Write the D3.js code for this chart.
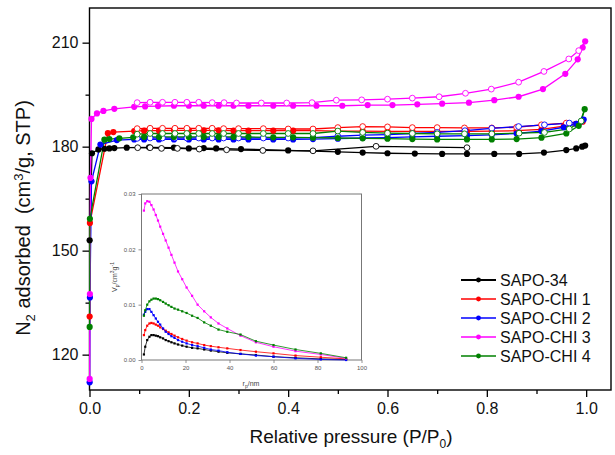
<!DOCTYPE html>
<html>
<head>
<meta charset="utf-8">
<script src="https://cdn.jsdelivr.net/npm/d3@7/dist/d3.min.js"></script>
<style>
  body { margin: 0; background: #fff; }
  svg { display: block; font-family: "Liberation Sans", Arial, sans-serif; }
</style>
</head>
<body>
<div id="chart"></div>
<script>
// ---- data: N2 isotherms, [P/P0, volume] ----
var seriesNames = ['SAPO-34', 'SAPO-CHI 1', 'SAPO-CHI 2', 'SAPO-CHI 3', 'SAPO-CHI 4'];
var seriesColors = ['#000000', '#ff0000', '#0000ff', '#ff00ff', '#008000'];
var joinTop = [false, true, true, true, true];

var ads34 = [[0.0003,153],[0.005,178.1],[0.018,179.2],[0.03,179.4],[0.04,179.5],[0.05,179.6],[0.075,179.7],[0.12,179.8],[0.17,179.7],[0.2,179.5],[0.23,179.6],[0.255,179.5],[0.305,179.3],[0.4,178.9],[0.5,178.5],[0.55,178.3],[0.6,178.1],[0.655,178.0],[0.71,177.9],[0.76,177.9],[0.815,177.9],[0.865,177.9],[0.915,178.3],[0.96,179.0],[0.98,179.5],[0.992,180.0],[0.998,180.3]];
var des34 = [[0.76,179.7],[0.577,180.1],[0.45,178.8],[0.349,178.9],[0.276,179.1],[0.221,179.3],[0.177,179.5],[0.145,179.5],[0.122,179.7],[0.097,179.7]];

var adsChi1 = [[0.0003,131],[0.0008,158],[0.037,183.9],[0.048,184.2],[0.09,184.5],[0.11,184.6],[0.14,184.6],[0.17,184.7],[0.2,184.7],[0.23,184.7],[0.26,184.7],[0.29,184.6],[0.32,184.6],[0.37,184.6],[0.41,184.6],[0.45,184.6],[0.5,184.5],[0.55,184.5],[0.6,184.4],[0.65,184.4],[0.7,184.4],[0.76,184.4],[0.81,184.5],[0.86,184.6],[0.91,185.0],[0.955,185.9],[0.98,186.6],[0.993,187.2]];
var desChi1 = [[0.96,186.8],[0.91,186.3],[0.86,185.6],[0.81,185.4],[0.755,185.4],[0.7,185.5],[0.65,185.5],[0.6,185.7],[0.55,185.8],[0.5,185.5],[0.45,185.1],[0.4,185.1],[0.35,185.2],[0.3,185.2],[0.27,185.2],[0.247,185.3],[0.22,185.3],[0.196,185.3],[0.172,185.3],[0.147,185.3],[0.122,185.3],[0.096,185.2]];

var adsChi2 = [[0.0003,112],[0.0008,136.5],[0.004,170],[0.022,180.6],[0.055,181.9],[0.09,182.1],[0.11,182.1],[0.14,182.1],[0.17,182.1],[0.2,182.1],[0.23,182.1],[0.26,182.1],[0.29,182.1],[0.32,182.1],[0.37,182.1],[0.41,182.1],[0.45,182.2],[0.5,182.3],[0.55,182.5],[0.6,182.6],[0.65,182.8],[0.7,183.0],[0.76,183.2],[0.81,183.4],[0.86,183.8],[0.91,184.5],[0.955,185.6],[0.98,186.6],[0.995,187.8]];
var desChi2 = [[0.99,187.3],[0.966,186.8],[0.916,186.3],[0.864,185.8],[0.81,185.3],[0.756,184.6],[0.7,184.1],[0.65,183.8],[0.6,183.5],[0.55,183.3],[0.5,183.0],[0.45,182.6],[0.4,182.5],[0.35,182.5],[0.3,182.5],[0.27,182.5],[0.247,182.5],[0.22,182.5],[0.196,182.5],[0.172,182.5],[0.147,182.5],[0.122,182.5],[0.096,182.4]];

var adsChi3 = [[0.0003,113],[0.0008,137.5],[0.002,171],[0.004,188],[0.015,189.6],[0.028,190.3],[0.05,190.9],[0.09,191.5],[0.112,191.6],[0.138,191.7],[0.17,191.8],[0.2,191.8],[0.23,191.8],[0.26,191.8],[0.29,191.8],[0.32,191.8],[0.37,191.8],[0.41,191.8],[0.457,191.8],[0.509,191.8],[0.56,192.0],[0.61,192.0],[0.66,192.2],[0.71,192.4],[0.764,192.7],[0.815,193.4],[0.864,194.4],[0.913,196.6],[0.958,201.0],[0.983,205.2],[0.993,208.6],[0.998,210.4]];
var desChi3 = [[0.985,207.7],[0.965,205.3],[0.915,201.7],[0.864,198.6],[0.809,196.6],[0.757,195.4],[0.704,194.4],[0.65,194.0],[0.6,193.7],[0.548,193.5],[0.497,193.4],[0.448,192.7],[0.397,192.6],[0.346,192.6],[0.296,192.6],[0.271,192.7],[0.247,192.7],[0.22,192.8],[0.196,192.8],[0.172,192.8],[0.147,192.8],[0.122,192.8],[0.096,192.7]];

var adsChi4 = [[0.0003,128],[0.0008,159.2],[0.03,182.0],[0.04,182.2],[0.06,182.4],[0.088,182.7],[0.11,182.8],[0.14,182.8],[0.17,182.8],[0.2,182.8],[0.23,182.8],[0.26,182.8],[0.29,182.8],[0.32,182.8],[0.37,182.7],[0.41,182.7],[0.45,182.6],[0.5,182.5],[0.55,182.4],[0.6,182.3],[0.65,182.2],[0.7,182.1],[0.76,182.1],[0.81,182.1],[0.86,182.2],[0.91,182.6],[0.96,183.8],[0.985,186.0],[0.997,190.8]];
var desChi4 = [[0.99,187.4],[0.966,185.1],[0.916,184.1],[0.865,183.9],[0.81,183.7],[0.755,183.7],[0.7,183.7],[0.65,183.8],[0.6,183.9],[0.55,184.1],[0.5,184.5],[0.45,183.8],[0.4,183.8],[0.35,183.8],[0.3,183.8],[0.27,183.8],[0.247,183.8],[0.22,183.8],[0.196,183.8],[0.172,183.8],[0.147,183.8],[0.122,183.8],[0.096,183.6]];

var adsData = [ads34, adsChi1, adsChi2, adsChi3, adsChi4];
var desData = [des34, desChi1, desChi2, desChi3, desChi4];

var xTicks = [0, 0.2, 0.4, 0.6, 0.8, 1.0];
var xMinor = [0.1, 0.3, 0.5, 0.7, 0.9];
var yTicks = [120, 150, 180, 210];
var yMinor = [135, 165, 195];

// ---- inset: pore size distribution ----
var rp = [1.1,1.7,2.6,3.6,4.5,5.5,6.5,7.5,8.5,9.8,11,12.3,13.6,15,16.6,18.5,20.5,23,25.5,28.5,31.5,35,39,45,52,60,70,81.5,93];
var psd34   = [0.0010,0.0024,0.0036,0.0042,0.0045,0.0045,0.0044,0.0043,0.0041,0.0039,0.0036,0.0034,0.0032,0.0030,0.0028,0.0026,0.0024,0.0022,0.0021,0.0019,0.0017,0.0015,0.0013,0.0011,0.0009,0.0006,0.0004,0.0002,0.0001];
var psdChi1 = [0.0045,0.0054,0.0062,0.0066,0.0067,0.0066,0.0064,0.0062,0.0059,0.0056,0.0053,0.0050,0.0047,0.0044,0.0041,0.0038,0.0035,0.0032,0.0030,0.0027,0.0025,0.0023,0.0021,0.0018,0.0015,0.0012,0.0008,0.0005,0.0002];
var psdChi2 = [0.0082,0.0087,0.0092,0.0092,0.0087,0.0081,0.0075,0.0069,0.0064,0.0057,0.0051,0.0047,0.0043,0.0040,0.0036,0.0033,0.0030,0.0027,0.0025,0.0022,0.0019,0.0017,0.0014,0.0011,0.0008,0.0006,0.0003,0.0001,0.0000];
var psdChi3 = [0.0270,0.0283,0.0287,0.0286,0.0280,0.0272,0.0262,0.0252,0.0241,0.0228,0.0216,0.0203,0.0190,0.0176,0.0160,0.0146,0.0131,0.0116,0.0100,0.0088,0.0077,0.0066,0.0057,0.0044,0.0032,0.0024,0.0016,0.0010,0.0003];
var psdChi4 = [0.0080,0.0090,0.0100,0.0106,0.0109,0.0111,0.0111,0.0110,0.0108,0.0105,0.0102,0.0099,0.0096,0.0093,0.0091,0.0088,0.0085,0.0080,0.0076,0.0068,0.0062,0.0055,0.0051,0.0046,0.0034,0.0027,0.0019,0.0012,0.0004];
var psdData = [psd34, psdChi1, psdChi2, psdChi3, psdChi4];
var insetXTicks = [0, 20, 40, 60, 80, 100];
var insetYTicks = [0, 0.01, 0.02, 0.03];

var W = 615, H = 455;
var svg = d3.select('#chart').append('svg').attr('width', W).attr('height', H);

var x = d3.scaleLinear().domain([0, 1.05]).range([89.5, 611]);
var y = d3.scaleLinear().domain([109.8, 220]).range([390, 8]);

// frame
svg.append('rect')
	.attr('x', x.range()[0]).attr('y', y.range()[1])
	.attr('width', x.range()[1] - x.range()[0])
	.attr('height', y.range()[0] - y.range()[1])
	.attr('fill', 'none').attr('stroke', '#000').attr('stroke-width', 1.4);

// axes
var gx = svg.append('g').attr('transform', 'translate(0,' + y.range()[0] + ')');
gx.call(d3.axisBottom(x).tickValues(xTicks).tickFormat(d3.format('.1f')).tickSize(7).tickPadding(6));
gx.append('g').call(d3.axisBottom(x).tickValues(xMinor).tickFormat('').tickSize(4));
var gy = svg.append('g').attr('transform', 'translate(' + x.range()[0] + ',0)');
gy.call(d3.axisLeft(y).tickValues(yTicks).tickSize(7).tickPadding(4));
gy.append('g').call(d3.axisLeft(y).tickValues(yMinor).tickFormat('').tickSize(4));
svg.selectAll('.domain').remove();
svg.selectAll('.tick line').attr('stroke', '#000').attr('stroke-width', 1.3);
svg.selectAll('.tick text').attr('font-size', 16).attr('fill', '#111')
	.attr('font-family', '"Liberation Sans", Arial, sans-serif');

// axis titles
var xt = svg.append('text').attr('x', 351).attr('y', 443).attr('text-anchor', 'middle')
	.attr('font-size', 19).attr('fill', '#111');
xt.append('tspan').text('Relative pressure (P/P');
xt.append('tspan').attr('font-size', 12).attr('dy', 5).text('0');
xt.append('tspan').attr('dy', -5).text(')');

var yt = svg.append('text').attr('transform', 'translate(30,218) rotate(-90)')
	.attr('text-anchor', 'middle').attr('font-size', 20).attr('fill', '#111');
yt.append('tspan').text('N');
yt.append('tspan').attr('font-size', 13).attr('dy', 5).text('2');
yt.append('tspan').attr('dy', -5).text(' adsorbed\u00a0 (cm');
yt.append('tspan').attr('font-size', 13).attr('dy', -7).text('3');
yt.append('tspan').attr('dy', 7).text('/g, STP)');

// isotherms
var line = d3.line().x(function(d) { return x(d[0]); }).y(function(d) { return y(d[1]); });
var plot = svg.append('g');
seriesNames.forEach(function(name, i) {
	var c = seriesColors[i];
	var ads = adsData[i];
	var des = joinTop[i] ? [ads[ads.length - 1]].concat(desData[i]) : desData[i];
	plot.append('path').attr('d', line(ads)).attr('fill', 'none').attr('stroke', c).attr('stroke-width', 1.3);
	plot.append('path').attr('d', line(des)).attr('fill', 'none').attr('stroke', c).attr('stroke-width', 1.3);
});
seriesNames.forEach(function(name, i) {
	var c = seriesColors[i];
	plot.append('g').selectAll('circle').data(adsData[i]).enter().append('circle')
		.attr('cx', function(d) { return x(d[0]); })
		.attr('cy', function(d) { return y(d[1]); })
		.attr('r', 3.1).attr('fill', c);
	plot.append('g').selectAll('circle').data(desData[i]).enter().append('circle')
		.attr('cx', function(d) { return x(d[0]); })
		.attr('cy', function(d) { return y(d[1]); })
		.attr('r', 2.9).attr('fill', '#fff').attr('stroke', c).attr('stroke-width', 0.9);
});

// legend
var lg = svg.append('g');
seriesNames.forEach(function(name, i) {
	var ly = 280 + i * 19;
	lg.append('line').attr('x1', 461).attr('x2', 496).attr('y1', ly).attr('y2', ly)
		.attr('stroke', seriesColors[i]).attr('stroke-width', i === 0 ? 2 : 1.4);
	lg.append('circle').attr('cx', 478.5).attr('cy', ly).attr('r', 2.4).attr('fill', seriesColors[i]);
	lg.append('text').attr('x', 500).attr('y', ly + 5.5).attr('font-size', 16).attr('fill', '#111').text(name);
});

// inset
var ix = d3.scaleLinear().domain([0, 100]).range([141.5, 361.5]);
var iy = d3.scaleLinear().domain([0, 0.03]).range([360, 194]);
var inset = svg.append('g');
inset.append('rect').attr('x', 141.5).attr('y', 194).attr('width', 220).attr('height', 166)
	.attr('fill', '#fff').attr('stroke', '#777').attr('stroke-width', 1);
var igx = inset.append('g').attr('transform', 'translate(0,360)')
	.call(d3.axisBottom(ix).tickValues(insetXTicks).tickSize(3).tickPadding(3));
var igy = inset.append('g').attr('transform', 'translate(141.5,0)')
	.call(d3.axisLeft(iy).tickValues(insetYTicks).tickFormat(d3.format('.2f')).tickSize(3).tickPadding(3));
inset.selectAll('.domain').remove();
inset.selectAll('.tick line').attr('stroke', '#777').attr('stroke-width', 0.8);
inset.selectAll('.tick text').attr('font-size', 6).attr('fill', '#555');

var iline = d3.line().x(function(d, j) { return ix(rp[j]); }).y(function(d) { return iy(d); });
psdData.forEach(function(vals, i) {
	var c = seriesColors[i];
	inset.append('path').attr('d', iline(vals)).attr('fill', 'none').attr('stroke', c).attr('stroke-width', 0.8);
	inset.append('g').selectAll('rect').data(vals).enter().append('rect')
		.attr('x', function(d, j) { return ix(rp[j]) - 1.1; })
		.attr('y', function(d) { return iy(d) - 1.1; })
		.attr('width', 2.2).attr('height', 2.2).attr('fill', c);
});

var ixt = inset.append('text').attr('x', 251).attr('y', 386).attr('text-anchor', 'middle')
	.attr('font-size', 7).attr('fill', '#444');
ixt.append('tspan').text('r');
ixt.append('tspan').attr('font-size', 5).attr('dy', 2).text('p');
ixt.append('tspan').attr('dy', -2).text('/nm');

var iyt = inset.append('text').attr('transform', 'translate(117,277) rotate(-90)')
	.attr('text-anchor', 'middle').attr('font-size', 7).attr('fill', '#444');
iyt.append('tspan').text('V');
iyt.append('tspan').attr('font-size', 5).attr('dy', 2).text('p');
iyt.append('tspan').attr('dy', -2).text('/cm');
iyt.append('tspan').attr('font-size', 5).attr('dy', -3).text('3');
iyt.append('tspan').attr('dy', 3).text('g');
iyt.append('tspan').attr('font-size', 5).attr('dy', -3).text('-1');
</script>
</body>
</html>
